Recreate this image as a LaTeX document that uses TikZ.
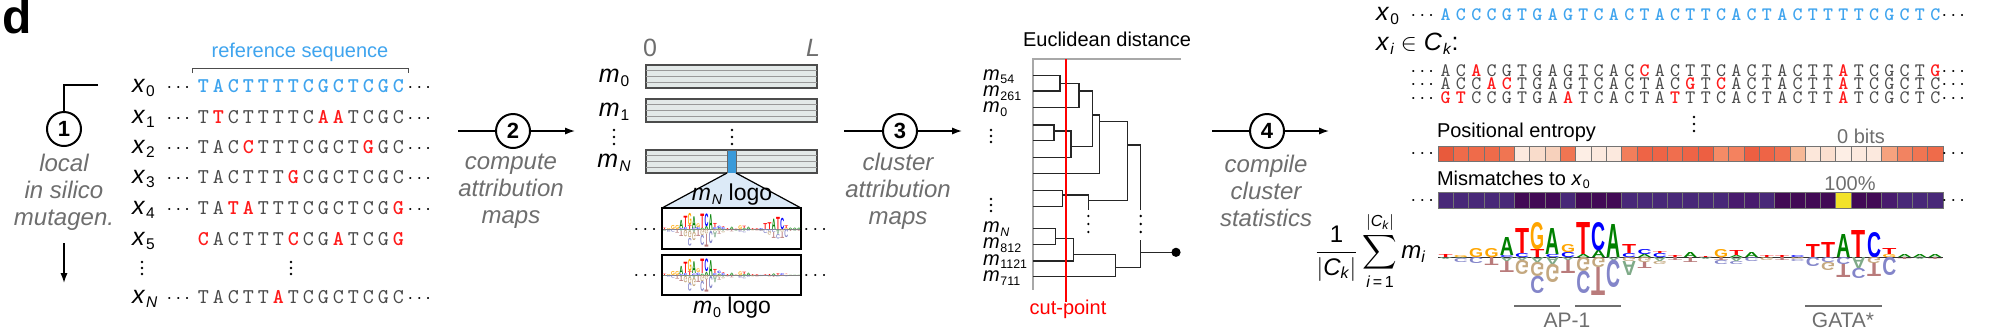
\documentclass[tikz,border=0pt]{standalone}
\usepackage{fontspec}
\setmainfont{Liberation Sans}
\usepackage{amsmath}
\usepackage{graphicx}
\usetikzlibrary{arrows.meta, positioning}

\definecolor{refblue}{HTML}{3FA4EE}
\definecolor{mutred}{HTML}{FF1A1A}
\definecolor{seqgray}{HTML}{4A4A4A}
\definecolor{stepgray}{HTML}{6E6E6E}
\definecolor{mapfill}{HTML}{E3E9E8}
\definecolor{hiblue}{HTML}{3A9AD9}
\definecolor{zoomblue}{HTML}{DCEAF7}
\definecolor{axgray}{HTML}{A8A8A8}
\definecolor{lgA}{HTML}{008000}
\definecolor{lgC}{HTML}{0000FF}
\definecolor{lgG}{HTML}{FFA500}
\definecolor{lgT}{HTML}{FF0000}
\definecolor{ngA}{HTML}{7FAA88}
\definecolor{ngC}{HTML}{8385C9}
\definecolor{ngG}{HTML}{C4A87F}
\definecolor{ngT}{HTML}{B97B7B}

\newcommand{\vsub}[2]{\textit{#1}\kern0.04em\raisebox{-0.35ex}{\scalebox{0.62}{#2}}}
\newcommand{\vdts}[3]{\foreach \dd in {-1,0,1} \fill (#1,{#2+\dd*#3}) circle (0.65pt);}

% position/letter/colour/offset/height (negative height = below baseline)
\newcommand{\logodata}{%
  1/T/lgT/0/3, 1/A/ngA/0/-2,
  2/G/lgG/0/2, 2/A/ngA/0/-1, 2/C/ngC/1/-4,
  3/G/lgG/0/9, 3/C/ngC/0/-6,
  4/G/lgG/0/9, 4/T/ngT/0/-8,
  5/C/lgC/0/2, 5/A/lgA/2/18, 5/A/ngA/0/-4, 5/T/ngT/4/-11,
  6/C/lgC/0/4, 6/T/lgT/4/25, 6/A/ngA/0/-3, 6/G/ngG/3/-14,
  7/T/lgT/0/8, 7/G/lgG/8/27, 7/A/ngA/0/-5, 7/G/ngG/5/-14, 7/C/ngC/19/-17,
  8/C/lgC/0/3, 8/A/lgA/3/26, 8/A/ngA/0/-7, 8/G/ngG/7/-18,
  9/C/lgC/0/5, 9/G/lgG/5/8, 9/A/ngA/0/-3, 9/T/ngT/3/-13,
  10/A/lgA/0/3, 10/T/lgT/3/32, 10/G/ngG/0/-14, 10/C/ngC/14/-22,
  11/A/lgA/0/7, 11/C/lgC/7/28, 11/G/ngG/0/-10, 11/T/ngT/10/-28,
  12/A/lgA/0/33, 12/A/ngA/0/-3, 12/C/ngC/3/-27,
  13/C/lgC/0/4, 13/T/lgT/4/9, 13/G/ngG/0/-4, 13/A/ngA/4/-14,
  14/A/lgA/0/3, 14/C/lgC/3/5, 14/G/ngG/0/-5, 14/T/ngT/5/-6,
  15/C/lgC/0/4, 15/T/lgT/4/2, 15/A/ngA/0/-4, 15/G/ngG/4/-3,
  16/T/lgT/0/2, 16/T/ngT/0/-3,
  17/A/lgA/0/5, 17/T/ngT/0/-5,
  18/T/lgT/0/1, 18/A/ngA/0/-2,
  19/G/lgG/0/8, 19/T/ngT/0/-3, 19/C/ngC/3/-4,
  20/A/lgA/0/2, 20/T/lgT/2/5, 20/A/ngA/0/-4, 20/C/ngC/4/-3,
  21/A/lgA/0/5, 21/C/ngC/0/-4,
  22/T/lgT/0/2, 22/G/ngG/0/-3,
  23/T/lgT/0/2, 23/T/ngT/0/-3,
  24/C/lgC/0/2, 24/G/ngG/0/-2, 24/C/ngC/2/-2,
  25/T/lgT/0/13, 25/C/ngC/0/-9,
  26/T/lgT/0/15, 26/C/ngC/0/-5, 26/G/ngG/5/-8,
  27/A/lgA/0/23, 27/C/ngC/0/-7, 27/T/ngT/7/-13,
  28/T/lgT/0/27, 28/A/ngA/0/-11, 28/C/ngC/11/-10,
  29/C/lgC/0/25, 29/G/ngG/0/-6, 29/T/ngT/6/-13,
  30/G/lgG/0/3, 30/T/lgT/3/6, 30/C/ngC/0/-18,
  31/A/lgA/0/3, 31/T/ngT/0/-2,
  32/A/lgA/0/3, 32/A/ngA/0/-2,
  33/A/lgA/0/3, 33/T/ngT/0/-2}

% x0, baseline, pitch, height scale, scale of the GATA part
\newcommand{\drawlogo}[5]{%
  \foreach \lp/\lt/\lc/\lo/\lh in \logodata {
    \pgfmathsetmacro\lgs{\lp>23 ? #5 : 1}
    \pgfmathsetmacro\lgx{#1+(\lp-1)*#3+0.04*#3}
    \pgfmathsetmacro\lgw{0.46*#3}
    \pgfmathsetmacro\lgh{max(abs(\lh)*0.5*#4*\lgs,0.05)}
    \pgfmathsetmacro\lgb{\lo*#4*\lgs}
    \ifdim\lh pt>0pt
      \node[text=\lc, anchor=base west, font=\bfseries] at (\lgx,#2-\lgb)
        {\resizebox{\lgw pt}{\lgh pt}{\lt}};
    \else
      \node[text=\lc, anchor=north west, font=\bfseries] at (\lgx,#2+\lgb)
        {\scalebox{1}[-1]{\resizebox{\lgw pt}{\lgh pt}{\lt}}};
    \fi
  }}

\begin{document}
\begin{tikzpicture}[x=0.5pt, y=-0.5pt,
    every node/.style={inner sep=0pt, outer sep=0pt},
    conn/.style={line width=0.7pt},
    arr/.style={-{Latex[length=5pt, width=3.6pt]}},
    stepc/.style={circle, draw, line width=1pt, minimum size=17pt, fill=white,
      font=\fontsize{11}{11}\selectfont\bfseries},
    steptxt/.style={align=center, text=stepgray, font=\fontsize{12}{13.5}\selectfont\itshape},
    lbl/.style={font=\fontsize{12.5}{12.5}\selectfont},
    sml/.style={font=\fontsize{10}{10}\selectfont},
    ln/.style={font=\fontsize{10.5}{10.5}\selectfont\ttfamily, text=seqgray},
    lm/.style={font=\fontsize{10.5}{10.5}\selectfont\ttfamily\bfseries, text=mutred},
    lr/.style={font=\fontsize{10.5}{10.5}\selectfont\ttfamily\bfseries, text=refblue},
    rn/.style={font=\fontsize{9.5}{9.5}\selectfont\ttfamily, text=seqgray},
    rm/.style={font=\fontsize{9.5}{9.5}\selectfont\ttfamily\bfseries, text=mutred},
    rr/.style={font=\fontsize{9.5}{9.5}\selectfont\ttfamily\bfseries, text=refblue},
    cell/.style={draw=black!55, line width=0.35pt},
    dendro/.style={line width=0.6pt, black!85}]
  \useasboundingbox (0,0) rectangle (2000,328);
  \node[anchor=base west, font=\fontsize{24}{24}\selectfont\bfseries] (panel) at (3,33) {d};

  % step 1: local in silico mutagenesis
  \node[stepc] (c1) at (64,129) {1};
  \coordinate (e1) at (98,85);
  \draw[conn] (e1) -| (c1);
  \node[steptxt] (t1) at (64,192) {local\\in silico\\mutagen.};
  \coordinate (d1a) at (64,243);
  \coordinate (d1b) at (64,283);
  \draw[conn, arr] (d1a) -- (d1b);

  % reference bracket
  \node[sml, anchor=base, text=refblue] (refl) at (300,57) {reference sequence};
  \draw[black!70, line width=0.5pt] (192,73) -- (192,68) -- (408,68) -- (408,73);

  % sequence labels
  \foreach \y/\s in {92/0, 123/1, 153/2, 183/3, 214/4, 245/5, 303/\textit{N}}
    \node[lbl, anchor=base west] at (132,\y) {\vsub{x}{\s}};
  \foreach \y in {92, 123, 153, 183, 214, 303} {
    \node[sml, anchor=base] at (180,\y) {$\cdots$};
    \node[sml, anchor=base] at (421,\y) {$\cdots$};
  }
  \vdts{142}{268}{6}
  \vdts{291}{268}{6}

  % sampled sequences
  \foreach \nt [count=\i] in {T,A,C,T,T,T,T,C,G,C,T,C,G,C}
    \node[lr, anchor=base] at ({203.5+15*(\i-1)},92) {\nt};
  \foreach \nt/\st [count=\i] in {T/n,T/m,C/n,T/n,T/n,T/n,T/n,C/n,A/m,A/m,T/n,C/n,G/n,C/n}
    \node[l\st, anchor=base] at ({203.5+15*(\i-1)},123) {\nt};
  \foreach \nt/\st [count=\i] in {T/n,A/n,C/n,C/m,T/n,T/n,T/n,C/n,G/n,C/n,T/n,G/m,G/n,C/n}
    \node[l\st, anchor=base] at ({203.5+15*(\i-1)},153) {\nt};
  \foreach \nt/\st [count=\i] in {T/n,A/n,C/n,T/n,T/n,T/n,G/m,C/n,G/n,C/n,T/n,C/n,G/n,C/n}
    \node[l\st, anchor=base] at ({203.5+15*(\i-1)},183) {\nt};
  \foreach \nt/\st [count=\i] in {T/n,A/n,T/m,A/m,T/n,T/n,T/n,C/n,G/n,C/n,T/n,C/n,G/n,G/m}
    \node[l\st, anchor=base] at ({203.5+15*(\i-1)},214) {\nt};
  \foreach \nt/\st [count=\i] in {C/m,A/n,C/n,T/n,T/n,T/n,C/m,C/n,G/n,A/m,T/n,C/n,G/n,G/m}
    \node[l\st, anchor=base] at ({203.5+15*(\i-1)},245) {\nt};
  \foreach \nt/\st [count=\i] in {T/n,A/n,C/n,T/n,T/n,A/m,T/n,C/n,G/n,C/n,T/n,C/n,G/n,C/n}
    \node[l\st, anchor=base] at ({203.5+15*(\i-1)},303) {\nt};

  % step 2: attribution maps
  \node[stepc] (c2) at (513,131) {2};
  \coordinate (a2s) at (458,131);
  \coordinate (a2e) at (575,131);
  \draw[conn] (a2s) -- (c2);
  \draw[conn, arr] (c2) -- (a2e);
  \node[steptxt] (t2) at (511,191) {compute\\attribution\\maps};

  \node[lbl, anchor=base, text=stepgray] (zero) at (650,56) {0};
  \node[lbl, anchor=base, text=stepgray] (len) at (813,56) {\textit{L}};
  \foreach \y/\s in {82/0, 116/1, 167/\textit{N}}
    \node[lbl, anchor=base] at (614,\y) {\vsub{m}{\s}};
  \vdts{614}{137}{7}
  \vdts{732}{137}{7}
  \foreach \yt/\yb in {65/88, 99/122, 150/173} {
    \filldraw[fill=mapfill, draw=black!70, line width=0.6pt] (646,\yt) rectangle (817,\yb);
    \foreach \q in {1,2,3}
      \draw[black!40, line width=0.4pt] (646,{\yt+\q*(\yb-\yt)/4}) -- (817,{\yt+\q*(\yb-\yt)/4});
  }
  \node[draw=black!60, fill=hiblue, line width=0.4pt, minimum width=4.5pt, minimum height=11.5pt] (hl) at (731.5,161.5) {};

  % zoom onto the logo
  \node[minimum width=69.5pt, minimum height=20.5pt] (mNbox) at (731.5,228.5) {};
  \node[minimum width=69.5pt, minimum height=20pt] (mzbox) at (731.5,275) {};
  \fill[zoomblue] (hl.south west) -- (hl.south east) -- (mNbox.north east) -- (mNbox.north west) -- cycle;
  \draw[line width=0.6pt] (hl.south west) -- (mNbox.north west);
  \draw[line width=0.6pt] (hl.south east) -- (mNbox.north east);
  \draw[line width=0.6pt] (mNbox.north west) rectangle (mNbox.south east);
  \draw[line width=0.6pt] (mzbox.north west) rectangle (mzbox.south east);
  \node[font=\fontsize{11.5}{11.5}\selectfont, anchor=base] (mNl) at (732,200) {\vsub{m}{\textit{N}} logo};
  \node[font=\fontsize{11.5}{11.5}\selectfont, anchor=base] (mzl) at (732,313) {\vsub{m}{0} logo};
  \draw[black!50, line width=0.3pt] (663,229.5) -- (800,229.5);
  \draw[black!50, line width=0.3pt] (663,275) -- (800,275);
  \drawlogo{662.5}{229.5}{4.2}{0.45}{1}
  \drawlogo{662.5}{275}{4.2}{0.45}{0.15}
  \foreach \y in {234, 280} {
    \node[sml, anchor=base] at (647,\y) {$\cdots$};
    \node[sml, anchor=base] at (817,\y) {$\cdots$};
  }

  % step 3: clustering
  \node[stepc] (c3) at (900,131) {3};
  \coordinate (a3s) at (844,131);
  \coordinate (a3e) at (962,131);
  \draw[conn] (a3s) -- (c3);
  \draw[conn, arr] (c3) -- (a3e);
  \node[steptxt] (t3) at (898,191) {cluster\\attribution\\maps};

  \node[sml, anchor=base] (eucl) at (1107,46.5) {Euclidean distance};
  \draw[axgray, line width=1pt] (1181,59) -- (1033,59) -- (1033,290);
  \foreach \y/\s in {80/54, 96.5/261, 112.5/0, 232.5/\textit{N}, 248.5/812, 265/1121, 281.5/711}
    \node[anchor=base west, font=\fontsize{10}{10}\selectfont] at (983,\y) {\vsub{m}{\s}};
  \vdts{991}{136}{6}
  \vdts{991}{205}{6}
  % dendrogram
  \draw[dendro] (1033,75.7) -- (1060,75.7) -- (1060,91) -- (1033,91);
  \draw[dendro] (1060,83.3) -- (1079,83.3);
  \draw[dendro] (1033,107.7) -- (1079,107.7) -- (1079,83.3);
  \draw[dendro] (1079,91) -- (1092.7,91) -- (1092.7,146.7);
  \draw[dendro] (1033,125) -- (1054,125) -- (1054,140.7) -- (1033,140.7);
  \draw[dendro] (1054,131) -- (1071,131) -- (1071,157.3) -- (1033,157.3);
  \draw[dendro] (1071,146.7) -- (1092.7,146.7);
  \draw[dendro] (1092.7,115) -- (1099.3,115) -- (1099.3,173.3) -- (1033,173.3);
  \draw[dendro] (1099.3,121.7) -- (1127.7,121.7) -- (1127.7,200.7) -- (1088.3,200.7);
  \draw[dendro] (1033,190.7) -- (1062.7,190.7) -- (1062.7,206.7) -- (1033,206.7);
  \draw[dendro] (1062.7,195) -- (1088.3,195) -- (1088.3,210);
  \draw[dendro] (1127.7,145) -- (1140.7,145) -- (1140.7,210);
  \vdts{1088.3}{224}{8}
  \vdts{1140.7}{224}{8}
  \draw[dendro] (1033,228.3) -- (1055.7,228.3) -- (1055.7,244.3) -- (1033,244.3);
  \draw[dendro] (1055.7,238.3) -- (1073.3,238.3) -- (1073.3,261) -- (1033,261);
  \draw[dendro] (1073.3,254.3) -- (1115.7,254.3) -- (1115.7,276.7) -- (1033,276.7);
  \draw[dendro] (1115.7,267.7) -- (1140.7,267.7) -- (1140.7,240);
  \draw[dendro] (1140.7,252.3) -- (1176,252.3);
  \fill (1176,252.3) circle (2.3pt);
  \draw[red, line width=0.6pt] (1066,59) -- (1066,302);
  \node[sml, anchor=base, text=red] (cut) at (1068,314) {cut-point};

  % step 4: cluster statistics
  \node[stepc] (c4) at (1267,131) {4};
  \coordinate (a4s) at (1212,131);
  \coordinate (a4e) at (1329,131);
  \draw[conn] (a4s) -- (c4);
  \draw[conn, arr] (c4) -- (a4e);
  \node[steptxt] (t4) at (1266,191) {compile\\cluster\\statistics};

  \node[lbl, anchor=base west] (xz) at (1376,20) {\vsub{x}{0}};
  \node[lbl, anchor=base west] (xin) at (1376,50) {\vsub{x}{\textit{i}} $\in$ \vsub{C}{\textit{k}}:};
  \foreach \y in {20, 76, 89.5, 103} {
    \node[sml, anchor=base] at (1424,\y) {$\cdots$};
    \node[sml, anchor=base] at (1955,\y) {$\cdots$};
  }
  \foreach \nt [count=\i] in {A,C,C,C,G,T,G,A,G,T,C,A,C,T,A,C,T,T,C,A,C,T,A,C,T,T,T,T,C,G,C,T,C}
    \node[rr, anchor=base] at ({1445.65+15.3*(\i-1)},20) {\nt};
  \foreach \nt/\st [count=\i] in {A/n,C/n,A/m,C/n,G/n,T/n,G/n,A/n,G/n,T/n,C/n,A/n,C/n,C/m,A/n,C/n,T/n,T/n,C/n,A/n,C/n,T/n,A/n,C/n,T/n,T/n,A/m,T/n,C/n,G/n,C/n,T/n,G/m}
    \node[r\st, anchor=base] at ({1445.65+15.3*(\i-1)},76) {\nt};
  \foreach \nt/\st [count=\i] in {A/n,C/n,C/n,A/m,C/m,T/n,G/n,A/n,G/n,T/n,C/n,A/n,C/n,T/n,A/n,C/n,G/m,T/n,C/m,A/n,C/n,T/n,A/n,C/n,T/n,T/n,A/m,T/n,C/n,G/n,C/n,T/n,C/n}
    \node[r\st, anchor=base] at ({1445.65+15.3*(\i-1)},89.5) {\nt};
  \foreach \nt/\st [count=\i] in {G/m,T/m,C/n,C/n,G/n,T/n,G/n,A/n,A/m,T/n,C/n,A/n,C/n,T/n,A/n,T/m,T/n,T/n,C/n,A/n,C/n,T/n,A/n,C/n,T/n,T/n,A/m,T/n,C/n,G/n,C/n,T/n,C/n}
    \node[r\st, anchor=base] at ({1445.65+15.3*(\i-1)},103) {\nt};
  \vdts{1694}{124}{7}

  % positional entropy
  \node[sml, anchor=base west] (enl) at (1437,137) {Positional entropy};
  \node[sml, anchor=base, text=stepgray] (bits) at (1861,143) {0 bits};
  \foreach \col [count=\i] in {E85A3C,EF6B4A,EF6B4A,EF6B4A,F07552,FCE9DE,F9DCCB,F7D1BC,F07552,FDEEE5,FCE9DE,FCE9DE,F27E5B,EE6446,EE6446,F06E4E,EE6446,ED5F42,F58B66,F4825F,ED5F42,EE6446,F07050,F6B896,FCE7DA,FBDFCF,FDEEE5,FCE9DE,FCE9DE,F6A27E,F28361,F07552,EF6B4A} {
    \definecolor{cellc}{HTML}{\col}
    \filldraw[cell, fill=cellc] ({1438+15.3*(\i-1)},146) rectangle ({1438+15.3*\i},161);
  }
  \node[sml, anchor=base] at (1424,158.5) {$\cdots$};
  \node[sml, anchor=base] at (1955,158.5) {$\cdots$};

  % mismatches
  \node[sml, anchor=base west] (mml) at (1437,185) {Mismatches to \vsub{x}{0}};
  \node[sml, anchor=base, text=stepgray] (pct) at (1850,190) {100\%};
  \foreach \col [count=\i] in {482878,482878,482878,482878,482878,420A55,420A55,420A55,482878,420A55,420A55,420A55,482878,482878,482878,482878,482878,482878,482878,481B6D,481B6D,482878,420A55,420A55,420A55,420A55,F2E229,420A55,420A55,481B6D,482878,482878,482878} {
    \definecolor{cellc}{HTML}{\col}
    \filldraw[cell, fill=cellc] ({1438+15.3*(\i-1)},192) rectangle ({1438+15.3*\i},208);
  }
  \node[sml, anchor=base] at (1424,205) {$\cdots$};
  \node[sml, anchor=base] at (1955,205) {$\cdots$};

  % average attribution map of the cluster
  \node[anchor=east, font=\fontsize{12}{12}\selectfont] (avg) at (1426,251)
    {$\displaystyle\frac{\textup{1}}{|\textit{C}_{\textit{k}}|}\sum_{\textit{i}\,\textup{=}\,\textup{1}}^{|\textit{C}_{\textit{k}}|}\textit{m}_{\textit{i}}$};
  \draw[black!80, line width=0.4pt] (1438,257) -- (1943,257);
  \drawlogo{1438}{257}{15.3}{1}{1}
  \draw[stepgray, line width=0.7pt] (1514,306) -- (1560,306);
  \draw[stepgray, line width=0.7pt] (1575,306) -- (1621,306);
  \draw[stepgray, line width=0.7pt] (1805,306) -- (1882,306);
  \node[anchor=base, text=stepgray, font=\fontsize{10.5}{10.5}\selectfont] (ap1) at (1567,327) {AP-1};
  \node[anchor=base, text=stepgray, font=\fontsize{10.5}{10.5}\selectfont] (gata) at (1843,327) {GATA*};
\end{tikzpicture}
\end{document}
